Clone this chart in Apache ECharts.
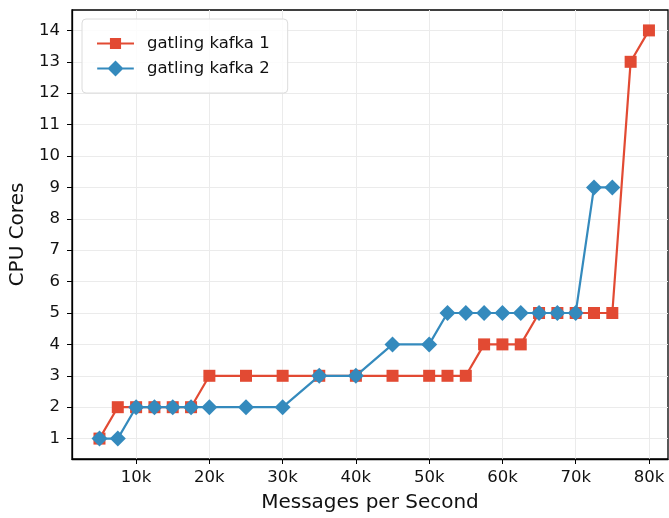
<!DOCTYPE html>
<html>
<head>
<meta charset="utf-8">
<script src="https://cdn.jsdelivr.net/npm/echarts@6/dist/echarts.min.js"></script>
<style>
  html, body { margin: 0; padding: 0; background: #fff; }
  #chart { width: 669px; height: 518px; }
</style>
</head>
<body>
<div id="chart"></div>
<script>
// Message rate (msgs/s) for each load step
const rates1 = [5000, 7500, 10000, 12500, 15000, 17500, 20000, 25000, 30000, 35000, 40000, 45000, 50000, 52500, 55000, 57500, 60000, 62500, 65000, 67500, 70000, 72500, 75000, 77500, 80000];
const cores1 = [1, 2, 2, 2, 2, 2, 3, 3, 3, 3, 3, 3, 3, 3, 3, 4, 4, 4, 5, 5, 5, 5, 5, 13, 14];

const rates2 = [5000, 7500, 10000, 12500, 15000, 17500, 20000, 25000, 30000, 35000, 40000, 45000, 50000, 52500, 55000, 57500, 60000, 62500, 65000, 67500, 70000, 72500, 75000];
const cores2 = [1, 1, 2, 2, 2, 2, 2, 2, 2, 3, 3, 4, 4, 5, 5, 5, 5, 5, 5, 5, 5, 9, 9];

const xTicks = [10000, 20000, 30000, 40000, 50000, 60000, 70000, 80000];
const yTicks = [1, 2, 3, 4, 5, 6, 7, 8, 9, 10, 11, 12, 13, 14];

const seriesNames = ['gatling kafka 1', 'gatling kafka 2'];
const colors = ['#E24A33', '#348ABD'];

const font = 'DejaVu Sans';
const zip = (xs, ys) => xs.map((x, i) => [x, ys[i]]);

// Legend glyphs: a line segment with the series marker in its middle
const legendSquare = 'path://M0,4.5L36.6,4.5L36.6,6.5L0,6.5Z M12.8,0L23.8,0L23.8,11L12.8,11Z';
const legendDiamond = 'path://M0,7L36.6,7L36.6,9L0,9Z M18.3,0L26.3,8L18.3,16L10.3,8Z';

const chart = echarts.init(document.getElementById('chart'), null, { renderer: 'canvas' });

chart.setOption({
  animation: false,
  backgroundColor: '#ffffff',
  textStyle: { fontFamily: font },
  grid: {
    left: 72, right: 1, top: 10, bottom: 57,
    show: true, borderColor: '#000', borderWidth: 1.3, backgroundColor: 'transparent'
  },
  legend: {
    orient: 'vertical',
    left: 82, top: 19,
    padding: [16, 18, 16, 15],
    itemGap: 8,
    itemWidth: 37, itemHeight: 16,
    symbolKeepAspect: true,
    backgroundColor: 'rgba(255,255,255,0.85)',
    borderColor: '#dcdcdc', borderWidth: 1, borderRadius: 4,
    textStyle: { fontFamily: font, fontSize: 16.5, color: '#111', padding: [0, 0, 0, 8] },
    data: [
      { name: seriesNames[0], icon: legendSquare },
      { name: seriesNames[1], icon: legendDiamond }
    ]
  },
  xAxis: {
    type: 'value',
    min: 1250, max: 82600,
    name: 'Messages per Second',
    nameLocation: 'middle', nameGap: 34,
    nameTextStyle: { fontFamily: font, fontSize: 20, color: '#111' },
    axisLine: { show: true, lineStyle: { color: '#000', width: 1.3 } },
    axisTick: { show: true, length: 5, lineStyle: { color: '#000', width: 1 }, customValues: xTicks },
    axisLabel: {
      customValues: xTicks,
      fontFamily: font, fontSize: 16.5, color: '#111', margin: 10,
      formatter: v => (v / 1000) + 'k'
    },
    splitLine: { show: true, lineStyle: { color: '#ebebeb', width: 1 } }
  },
  yAxis: {
    type: 'value',
    min: 0.35, max: 14.65,
    name: 'CPU Cores',
    nameLocation: 'middle', nameGap: 36, nameRotate: 90,
    nameTextStyle: { fontFamily: font, fontSize: 20, color: '#111' },
    axisLine: { show: true, lineStyle: { color: '#000', width: 1.3 } },
    axisTick: { show: true, length: 5, lineStyle: { color: '#000', width: 1 }, customValues: yTicks },
    axisLabel: {
      customValues: yTicks,
      fontFamily: font, fontSize: 16.5, color: '#111', margin: 12
    },
    splitLine: { show: true, lineStyle: { color: '#ebebeb', width: 1 } }
  },
  series: [
    {
      name: seriesNames[0],
      type: 'line',
      data: zip(rates1, cores1),
      symbol: 'rect', symbolSize: 12,
      showAllSymbol: true,
      itemStyle: { color: colors[0] },
      lineStyle: { color: colors[0], width: 2.2 },
      z: 2
    },
    {
      name: seriesNames[1],
      type: 'line',
      data: zip(rates2, cores2),
      symbol: 'diamond', symbolSize: 16,
      showAllSymbol: true,
      itemStyle: { color: colors[1] },
      lineStyle: { color: colors[1], width: 2.2 },
      z: 3
    }
  ]
});
</script>
</body>
</html>
